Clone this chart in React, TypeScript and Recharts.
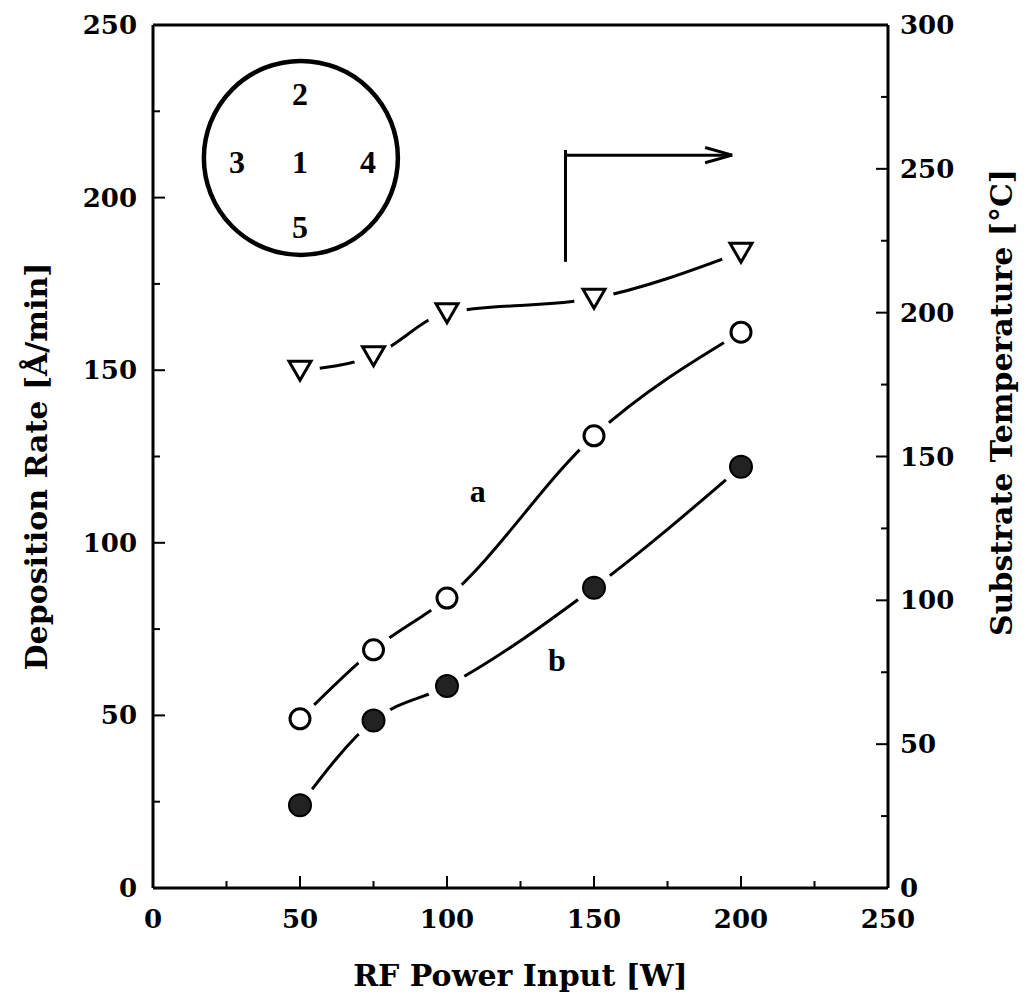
import React from 'react';
import {
  LineChart,
  Line,
  XAxis,
  YAxis,
  Label,
  ReferenceLine,
  ReferenceDot
} from 'recharts';

// RF power input [W]
const power = [50, 75, 100, 150, 200];
// deposition rate [Å/min], curve a (open circles)
const rateA = [49, 69, 84, 131, 161];
// deposition rate [Å/min], curve b (filled circles)
const rateB = [24, 48.5, 58.5, 87, 122];
// substrate temperature [°C] (triangles, right axis)
const temperature = [180, 185, 200, 205, 221];

const xTicks = [0, 25, 50, 75, 100, 125, 150, 175, 200, 225, 250];
const leftTicks = [0, 25, 50, 75, 100, 125, 150, 175, 200, 225, 250];
const rightTicks = [0, 25, 50, 75, 100, 125, 150, 175, 200, 225, 250, 275, 300];

// wafer position sketch, labels placed in data units of the left axis
const insetLabels = [
  { text: '2', x: 50, y: 230 },
  { text: '3', x: 28.6, y: 210.3 },
  { text: '1', x: 50, y: 210.3 },
  { text: '4', x: 73.1, y: 210.3 },
  { text: '5', x: 50, y: 191.5 }
];
const curveLabels = [
  { text: 'a', x: 110.5, y: 115 },
  { text: 'b', x: 137.4, y: 66 }
];

const data = power.map((p, i) => ({
  power: p,
  a: rateA[i],
  b: rateB[i],
  temp: temperature[i]
}));

const tickFont = "'DejaVu Serif', serif";
const textFont = "'Liberation Serif', 'Times New Roman', serif";

const XTick = ({ x, y, payload }: any) => {
  const v = payload.value;
  const major = v % 50 === 0;
  return (
    <g>
      <line x1={x} x2={x} y1={y} y2={y - (major ? 12 : 7)} stroke="#000" strokeWidth={2} />
      {major && (
        <text x={x} y={y + 31} textAnchor="middle" dominantBaseline="central"
          fontFamily={tickFont} fontWeight="bold" fontSize={26} fill="#000">
          {v}
        </text>
      )}
    </g>
  );
};

const LeftTick = ({ x, y, payload }: any) => {
  const v = payload.value;
  const major = v % 50 === 0;
  return (
    <g>
      <line x1={x} x2={x + (major ? 12 : 7)} y1={y} y2={y} stroke="#000" strokeWidth={2} />
      {major && (
        <text x={x - 16} y={y} textAnchor="end" dominantBaseline="central"
          fontFamily={tickFont} fontWeight="bold" fontSize={26} fill="#000">
          {v}
        </text>
      )}
    </g>
  );
};

const RightTick = ({ x, y, payload }: any) => {
  const v = payload.value;
  const major = v % 50 === 0;
  return (
    <g>
      <line x1={x} x2={x - (major ? 12 : 7)} y1={y} y2={y} stroke="#000" strokeWidth={2} />
      {major && (
        <text x={x + 12} y={y} textAnchor="start" dominantBaseline="central"
          fontFamily={tickFont} fontWeight="bold" fontSize={26} fill="#000">
          {v}
        </text>
      )}
    </g>
  );
};

const OpenDot = (p: any) => (
  <g key={`oa-${p.index}`}>
    <circle cx={p.cx} cy={p.cy} r={20} fill="#fff" />
    <circle cx={p.cx} cy={p.cy} r={10} fill="#fff" stroke="#000" strokeWidth={3} />
  </g>
);

const FilledDot = (p: any) => (
  <g key={`fb-${p.index}`}>
    <circle cx={p.cx} cy={p.cy} r={20} fill="#fff" />
    <circle cx={p.cx} cy={p.cy} r={11} fill="#222" stroke="#000" strokeWidth={2} />
  </g>
);

const TriangleDot = (p: any) => {
  const { cx, cy } = p;
  return (
    <g key={`tr-${p.index}`}>
      <circle cx={cx} cy={cy} r={20} fill="#fff" />
      <polygon
        points={`${cx - 11},${cy - 9} ${cx + 11},${cy - 9} ${cx},${cy + 10}`}
        fill="#fff" stroke="#000" strokeWidth={3} strokeLinejoin="miter"
      />
    </g>
  );
};

const textShape = (text: string, size: number) => (p: any) => (
  <text x={p.cx} y={p.cy} textAnchor="middle" dominantBaseline="central"
    fontFamily={textFont} fontWeight="bold" fontSize={size} fill="#000">
    {text}
  </text>
);

const App = () => {
  return (
    <div style={{ position: 'absolute', left: 0, top: 0, background: '#fff' }}>
      <LineChart
        width={1026}
        height={1000}
        data={data}
        margin={{ top: 25, right: 0, bottom: 0, left: 0 }}
      >
        <XAxis
          dataKey="power"
          type="number"
          domain={[0, 250]}
          ticks={xTicks}
          interval={0}
          height={112}
          tickSize={0}
          tickMargin={0}
          tickLine={false}
          axisLine={{ stroke: '#000', strokeWidth: 3 }}
          tick={<XTick />}
        >
          <Label
            content={(p: any) => {
              const vb = p.viewBox;
              return (
                <text x={vb.x + vb.width / 2} y={vb.y + 87} textAnchor="middle" dominantBaseline="central"
                  fontFamily={tickFont} fontWeight="bold" fontSize={30} fill="#000">
                  RF Power Input [W]
                </text>
              );
            }}
          />
        </XAxis>
        <YAxis
          yAxisId="left"
          type="number"
          domain={[0, 250]}
          ticks={leftTicks}
          interval={0}
          width={153}
          tickSize={0}
          tickMargin={0}
          tickLine={false}
          axisLine={{ stroke: '#000', strokeWidth: 3 }}
          tick={<LeftTick />}
        >
          <Label
            content={(p: any) => {
              const vb = p.viewBox;
              const cx = vb.x + 36;
              const cy = vb.y + vb.height / 2 + 10;
              return (
                <text x={cx} y={cy} transform={`rotate(-90, ${cx}, ${cy})`} textAnchor="middle"
                  dominantBaseline="central" fontFamily={tickFont} fontWeight="bold" fontSize={30} fill="#000">
                  Deposition Rate [Å/min]
                </text>
              );
            }}
          />
        </YAxis>
        <YAxis
          yAxisId="right"
          orientation="right"
          type="number"
          domain={[0, 300]}
          ticks={rightTicks}
          interval={0}
          width={138}
          tickSize={0}
          tickMargin={0}
          tickLine={false}
          axisLine={{ stroke: '#000', strokeWidth: 3 }}
          tick={<RightTick />}
        >
          <Label
            content={(p: any) => {
              const vb = p.viewBox;
              const cx = vb.x + 113;
              const cy = vb.y + vb.height / 2 - 54;
              return (
                <text x={cx} y={cy} transform={`rotate(-90, ${cx}, ${cy})`} textAnchor="middle"
                  dominantBaseline="central" fontFamily={tickFont} fontWeight="bold" fontSize={30} fill="#000">
                  Substrate Temperature [°C]
                </text>
              );
            }}
          />
        </YAxis>

        {/* top frame */}
        <ReferenceLine yAxisId="left" y={250} stroke="#000" strokeWidth={3} />

        <Line
          yAxisId="right"
          dataKey="temp"
          type="monotone"
          stroke="#000"
          strokeWidth={3}
          dot={TriangleDot}
          activeDot={false}
          isAnimationActive={false}
        />
        <Line
          yAxisId="left"
          dataKey="a"
          type="monotone"
          stroke="#000"
          strokeWidth={3}
          dot={OpenDot}
          activeDot={false}
          isAnimationActive={false}
        />
        <Line
          yAxisId="left"
          dataKey="b"
          type="monotone"
          stroke="#000"
          strokeWidth={3}
          dot={FilledDot}
          activeDot={false}
          isAnimationActive={false}
        />

        {/* arrow pointing to the temperature axis */}
        <ReferenceLine yAxisId="left" segment={[{ x: 140.3, y: 181.4 }, { x: 140.3, y: 213.8 }]} stroke="#000" strokeWidth={3} />
        <ReferenceLine yAxisId="left" segment={[{ x: 140.3, y: 212.3 }, { x: 197, y: 212.3 }]} stroke="#000" strokeWidth={3} />
        <ReferenceLine yAxisId="left" segment={[{ x: 187.8, y: 214.5 }, { x: 197, y: 212.3 }]} stroke="#000" strokeWidth={3} />
        <ReferenceLine yAxisId="left" segment={[{ x: 187.8, y: 210.1 }, { x: 197, y: 212.3 }]} stroke="#000" strokeWidth={3} />

        {/* wafer position inset */}
        <ReferenceDot
          yAxisId="left"
          x={50.3}
          y={211.5}
          r={97}
          shape={(p: any) => (
            <circle cx={p.cx} cy={p.cy} r={97} fill="none" stroke="#000" strokeWidth={4.5} />
          )}
        />
        {insetLabels.map((l) => (
          <ReferenceDot key={`in-${l.text}`} yAxisId="left" x={l.x} y={l.y} r={1} shape={textShape(l.text, 32)} />
        ))}
        {curveLabels.map((l) => (
          <ReferenceDot key={`cl-${l.text}`} yAxisId="left" x={l.x} y={l.y} r={1} shape={textShape(l.text, 32)} />
        ))}
      </LineChart>
    </div>
  );
};

export default App;
